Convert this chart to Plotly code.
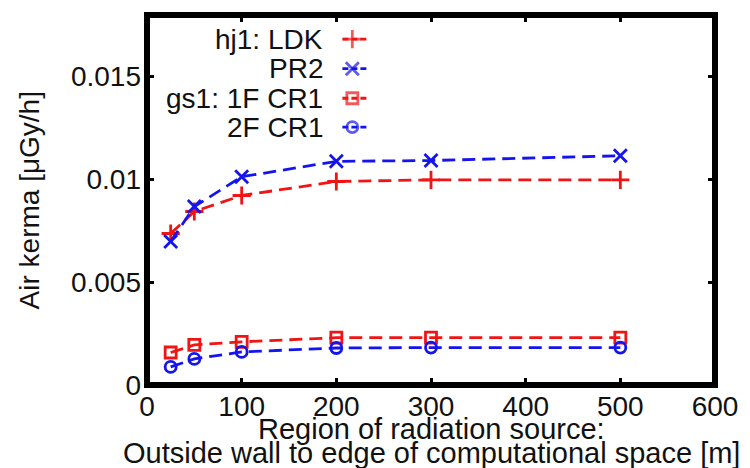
import plotly.graph_objects as go

# Distance from the outside wall to the edge of the computational space [m]
distance_m = [25, 50, 100, 200, 300, 500]

# Air kerma [uGy/h] for each evaluation point
hj1_ldk = [0.00737, 0.00844, 0.00922, 0.00990, 0.00998, 0.00998]
hj1_pr2 = [0.00698, 0.00868, 0.01013, 0.01088, 0.01092, 0.01115]
gs1_1f_cr1 = [0.00158, 0.00195, 0.00210, 0.00230, 0.00230, 0.00230]
gs1_2f_cr1 = [0.00088, 0.00127, 0.00161, 0.00180, 0.00182, 0.00182]

series_names = ["hj1: LDK", "PR2", "gs1: 1F CR1", "2F CR1"]
x_ticks = [0, 100, 200, 300, 400, 500, 600]
y_ticks = [0, 0.005, 0.01, 0.015]
y_tick_text = ["0", "0.005", "0.01", "0.015"]

RED = "#f01414"
BLUE = "#1414f0"
FONT = "Liberation Sans, Arial, sans-serif"
TEXT = "#111111"

styles = [
    dict(color=RED, symbol="cross-thin-open", size=13),
    dict(color=BLUE, symbol="x-thin-open", size=13),
    dict(color=RED, symbol="square-open", size=11),
    dict(color=BLUE, symbol="circle-open", size=11),
]
values = [hj1_ldk, hj1_pr2, gs1_1f_cr1, gs1_2f_cr1]

fig = go.Figure()

for name, ys, st in zip(series_names, values, styles):
    fig.add_trace(go.Scatter(
        x=distance_m, y=ys, name=name, mode="lines+markers",
        line=dict(color=st["color"], width=2.8, dash="13px,7px"),
        marker=dict(symbol=st["symbol"], size=st["size"], color=st["color"],
                    line=dict(color=st["color"], width=2.8)),
        showlegend=False,
    ))

# Key: right-aligned labels with a short sample line and marker to their right,
# drawn on an invisible overlay axis spanning [0, 1] in both directions.
key_rows = [0.935, 0.855, 0.775, 0.697]
key_text_x = 0.313
key_line = [0.344, 0.3615, 0.388]
for name, st, ky in zip(series_names, styles, key_rows):
    fig.add_trace(go.Scatter(
        x=key_line, y=[ky] * 3, xaxis="x2", yaxis="y2",
        mode="lines+markers", showlegend=False, hoverinfo="skip",
        line=dict(color=st["color"], width=2.8, dash="6px,3px"),
        marker=dict(symbol=st["symbol"], size=[0, st["size"], 0], color=st["color"],
                    line=dict(color=st["color"], width=2.8)),
    ))
    fig.add_annotation(
        x=key_text_x, y=ky, xref="paper", yref="paper", text=name,
        showarrow=False, xanchor="right", yanchor="middle",
        font=dict(family=FONT, size=28, color=TEXT),
    )

axis_common = dict(
    showgrid=False, zeroline=False, showline=False,
    ticks="inside", ticklen=7, tickwidth=2.5, tickcolor="black",
    mirror="ticks",
    tickfont=dict(family=FONT, size=28, color=TEXT),
)

fig.update_layout(
    width=750, height=468,
    margin=dict(l=147, r=33, t=15, b=83),
    paper_bgcolor="white", plot_bgcolor="white",
    xaxis=dict(range=[0, 600], tickvals=x_ticks, ticklabelstandoff=2, **axis_common),
    yaxis=dict(range=[0, 0.018], tickvals=y_ticks, ticktext=y_tick_text,
               ticklabelstandoff=5, **axis_common),
    xaxis2=dict(range=[0, 1], overlaying="x", visible=False, fixedrange=True),
    yaxis2=dict(range=[0, 1], overlaying="y", visible=False, fixedrange=True),
    showlegend=False,
)

# Thick frame around the plotting area
fig.add_shape(type="rect", xref="paper", yref="paper", x0=0, y0=0, x1=1, y1=1,
              line=dict(color="black", width=6), layer="above")

# Axis titles
fig.add_annotation(
    x=-0.207, y=0.5, xref="paper", yref="paper", text="Air kerma [μGy/h]",
    textangle=-90, showarrow=False, xanchor="center", yanchor="middle",
    font=dict(family=FONT, size=28, color=TEXT),
)
fig.add_annotation(
    x=0.5, y=-0.120, xref="paper", yref="paper", text="Region of radiation source:",
    showarrow=False, xanchor="center", yanchor="middle",
    font=dict(family=FONT, size=29, color=TEXT),
)
fig.add_annotation(
    x=0.5, y=-0.184, xref="paper", yref="paper",
    text="Outside wall to edge of computational space [m]",
    showarrow=False, xanchor="center", yanchor="middle",
    font=dict(family=FONT, size=29, color=TEXT),
)

fig.write_html("out.html")
